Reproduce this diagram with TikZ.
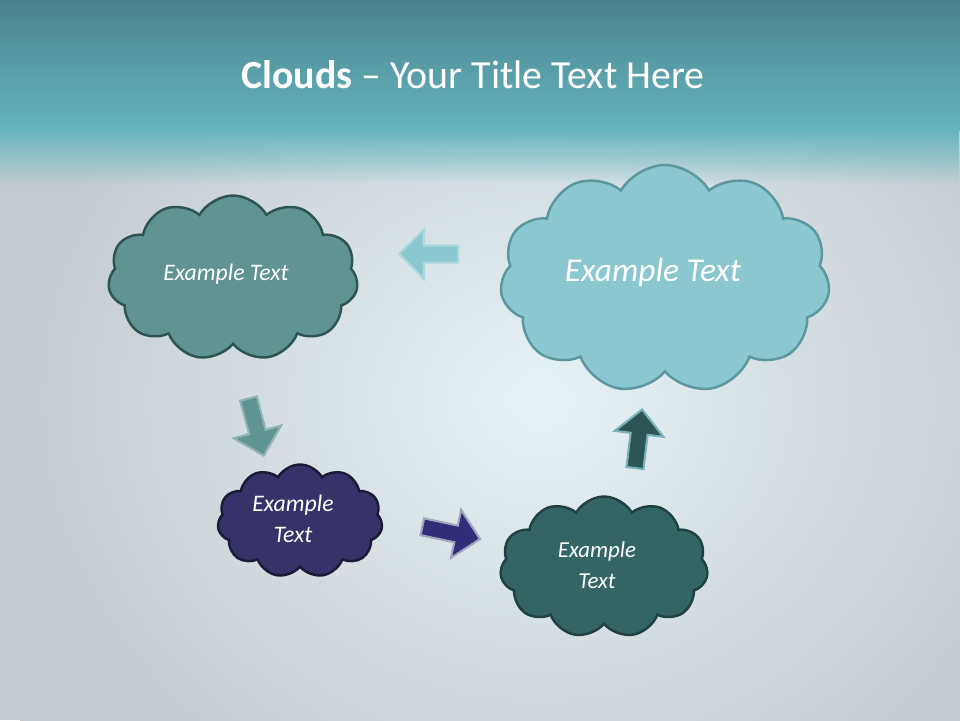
\documentclass[tikz,border=0pt]{standalone}
\usepackage{fontspec}
\setmainfont{Carlito}
\usetikzlibrary{shapes.symbols,shapes.arrows,fadings}

\definecolor{headtop}{HTML}{4A838C}
\definecolor{headbot}{HTML}{65B5BF}
\definecolor{bgbase}{HTML}{C4CBD0}
\definecolor{glow}{HTML}{E6F3F6}
\definecolor{tealfill}{HTML}{5F9493}
\definecolor{tealline}{HTML}{2E5452}
\definecolor{skyfill}{HTML}{8AC7CE}
\definecolor{skyline}{HTML}{5C979E}
\definecolor{navyfill}{HTML}{35336A}
\definecolor{navyline}{HTML}{1B1A38}
\definecolor{darkfill}{HTML}{346565}
\definecolor{darkline}{HTML}{1F4141}

\tikzset{
  cloudbox/.style={cloud, cloud puffs=11, cloud puff arc=120, aspect=1.5,
    inner sep=0pt, line width=1.4pt},
  cloudtext/.style={text=white, align=center, font=\itshape\fontsize{13.5}{16.5}\selectfont},
  blockarrow/.style={single arrow, single arrow head extend=0.32cm,
    minimum height=1.18cm, inner xsep=0pt, inner ysep=0.15cm, line width=1.2pt}
}

\begin{document}
\begin{tikzpicture}[x=0.02cm, y=-0.02cm]
  \useasboundingbox (0,0) rectangle (960,720);
  \clip (0,0) rectangle (960,720);

  % background
  \fill[bgbase] (0,0) rectangle (960,720);
  \shade[inner color=glow, outer color=bgbase] (20,-60) rectangle (1060,860);
  \shade[top color=headtop, bottom color=headbot] (0,0) rectangle (960,130);
  \fill[headbot, path fading=south] (0,129) rectangle (960,185);

  \node[white, font=\fontsize{22.7}{28}\selectfont] (title) at (473,75)
    {\textbf{Clouds} – Your Title Text Here};

  % clouds
  \node[cloudbox, fill=tealfill, draw=tealline, minimum width=5cm, minimum height=3.3cm] (topleft) at (233,278) {};
  \node[cloudbox, fill=skyfill, draw=skyline, minimum width=6.6cm, minimum height=4.56cm] (topright) at (665,279) {};
  \node[cloudbox, fill=navyfill, draw=navyline, minimum width=3.3cm, minimum height=2.26cm] (botleft) at (300,521) {};
  \node[cloudbox, fill=darkfill, draw=darkline, minimum width=4.16cm, minimum height=2.82cm] (botright) at (604,567) {};

  \node[cloudtext] (topleftlabel) at (226,274) {Example Text};
  \node[cloudtext, font=\itshape\fontsize{19}{22}\selectfont] (toprightlabel) at (653,273) {Example Text};
  \node[cloudtext] (botleftlabel) at (293,519) {Example\\[1pt]Text};
  \node[cloudtext, font=\itshape\fontsize{13}{16}\selectfont] (botrightlabel) at (597,565) {Example\\[2pt]Text};

  % arrows
  \node[blockarrow, fill=skyfill, draw=skyfill!70!white, rotate=180] (aleft) at (433,254) {};
  \node[blockarrow, fill=tealfill, draw=tealfill!70!white, rotate=-75] (adown) at (255,423) {};
  \node[blockarrow, fill=navyfill!90!blue, draw=navyfill!45!white, rotate=-12] (aright) at (447,532) {};
  \node[blockarrow, fill=darkfill!85!black, draw=skyfill!80!darkfill, rotate=83] (aup) at (638,443) {};
\end{tikzpicture}
\end{document}
